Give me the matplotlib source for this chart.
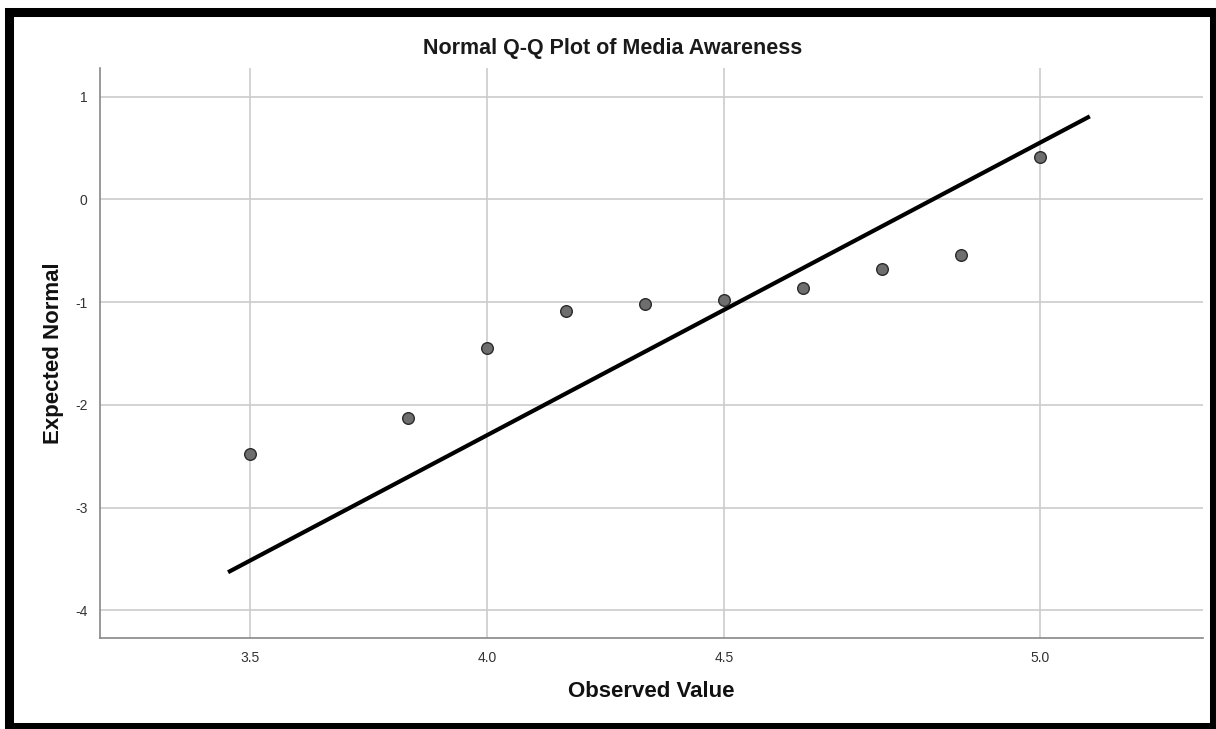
import matplotlib
matplotlib.use('Agg')
import matplotlib.pyplot as plt
from matplotlib.patches import Rectangle

plt.rcParams['font.family'] = ['Liberation Sans', 'DejaVu Sans']
plt.rcParams['axes.unicode_minus'] = False

# observed scores (mean of 7 items) and expected normal values
observed = [3.571, 3.857, 4.0, 4.143, 4.286, 4.429, 4.571, 4.714, 4.857, 5.0]
expected = [-2.48, -2.13, -1.45, -1.09, -1.02, -0.98, -0.86, -0.68, -0.54, 0.41]

# reference line end points
line_x = [3.535, 5.087]
line_y = [-3.62, 0.80]

x_ticks = [3.571, 4.0, 4.429, 5.0]
x_tick_labels = ['3.5', '4.0', '4.5', '5.0']
y_ticks = [1, 0, -1, -2, -3, -4]

fig = plt.figure(figsize=(12.16, 7.29), dpi=100)
ax = fig.add_axes([0.0822, 0.1248, 0.9071, 0.7819])

ax.plot(line_x, line_y, color='black', linewidth=3, zorder=3)
ax.scatter(observed, expected, s=70, color='#6e6e6e', edgecolor='#2a2a2a',
           linewidth=1.0, zorder=4)

ax.set_xlim(3.30, 5.295)
ax.set_ylim(-4.27, 1.28)
ax.set_xticks(x_ticks)
ax.set_xticklabels(x_tick_labels)
ax.set_yticks(y_ticks)
ax.grid(True, color='#cccccc', linewidth=1.2)
ax.set_axisbelow(True)
ax.tick_params(length=0, labelsize=10, colors='#333333', pad=9)

for side in ['top', 'right']:
    ax.spines[side].set_visible(False)
for side in ['left', 'bottom']:
    ax.spines[side].set_color('#888888')
    ax.spines[side].set_linewidth(1.2)

fig.text(0.504, 0.933, 'Normal Q-Q Plot of Media Awareness', fontsize=15.5,
         fontweight='bold', color='#1a1a1a', ha='center', va='center')
ax.set_xlabel('Observed Value', fontsize=16, fontweight='bold',
              color='#111111', labelpad=12)
ax.set_ylabel('Expected Normal', fontsize=16, fontweight='bold',
              color='#111111', labelpad=8)

# thick black frame round the whole picture
fig.patches.append(Rectangle((0.0074, 0.0027), 0.991, 0.9803,
                             transform=fig.transFigure, fill=False,
                             edgecolor='black', linewidth=6.5))

fig.savefig('out.png', dpi=100)
